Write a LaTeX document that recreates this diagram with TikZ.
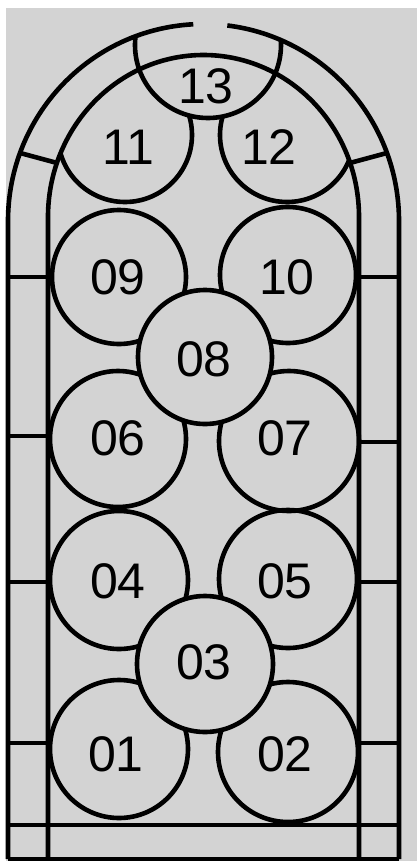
\documentclass[tikz,border=0pt]{standalone}
\usepackage{fontspec}
\setmainfont{Liberation Sans}
\usetikzlibrary{calc}
\definecolor{camGri}{HTML}{D3D3D3}
\begin{document}
\begin{tikzpicture}[x=1pt,y=-1pt,line width=4.6pt,
  numara/.style={font=\fontsize{50}{52}\selectfont,inner sep=0pt},
  dolu/.style={fill=camGri,draw=black}]
\useasboundingbox (0,0) rectangle (417,863);
\fill[camGri] (6,8) rectangle (417,861);
% kemer merkezleri
\coordinate (dk) at (203.5,221);
\coordinate (ik) at (203.5,217);
% 11 ve 12 ic kemerin icinde
\begin{scope}
\clip (48,217) arc[start angle=180,end angle=360,x radius=155.5,y radius=162] -- (359,863) -- (48,863) -- cycle;
\draw (125,135) circle (67);
\draw (287,135) circle (67);
\end{scope}
% 13 dis kemerin icinde
\begin{scope}
\clip (8,221) arc[start angle=180,end angle=360,x radius=195.5,y radius=197] -- (399,863) -- (8,863) -- cycle;
\filldraw[dolu] (208,45) circle (73);
\end{scope}
% dis kemer, ustte aralik var
\draw (8,859) -- (8,221) arc[start angle=180,end angle=267,x radius=195.5,y radius=197];
\draw (399,859) -- (399,221) arc[start angle=360,end angle=277,x radius=195.5,y radius=197];
% ic kemer
\draw (48,859) -- (48,217) arc[start angle=180,end angle=360,x radius=155.5,y radius=162] -- (359,859);
% alt bant
\draw (8,859) -- (399,859);
\draw (8,825) -- (399,825);
% kenar bolmeleri
\foreach \y in {277,436,582,743} \draw (8,\y) -- (48,\y);
\foreach \y in {277,442,582,743} \draw (359,\y) -- (399,\y);
\coordinate (dsol) at ($(dk)+(200.2:195.5 and 197)$);
\coordinate (isol) at ($(ik)+(199.5:155.5 and 162)$);
\coordinate (dsag) at ($(dk)+(339.8:195.5 and 197)$);
\coordinate (isag) at ($(ik)+(340.5:155.5 and 162)$);
\draw (dsol) -- (isol);
\draw (dsag) -- (isag);
% yan daireler
\foreach \x/\y/\r in {119/749/69,288/752/70,119/580/69,288/579/69,
                      118/439/68,289/441/70,119/277/67,288/275/68}
  \draw (\x,\y) circle (\r);
% orta daireler ustte
\filldraw[dolu] (205,664) circle (68);
\filldraw[dolu] (205,357) circle (67);
% numaralar
\node[numara] (n01) at (116,754) {01};
\node[numara] (n02) at (285,754) {02};
\node[numara] (n03) at (204,662) {03};
\node[numara] (n04) at (118,581) {04};
\node[numara] (n05) at (285,581) {05};
\node[numara] (n06) at (118,438) {06};
\node[numara] (n07) at (285,438) {07};
\node[numara] (n08) at (204,359) {08};
\node[numara] (n09) at (118,277) {09};
\node[numara] (n10) at (287,277) {10};
\node[numara] (n11) at (128,147) {11};
\node[numara] (n12) at (269,147) {12};
\node[numara] (n13) at (206,86) {13};
\end{tikzpicture}
\end{document}
